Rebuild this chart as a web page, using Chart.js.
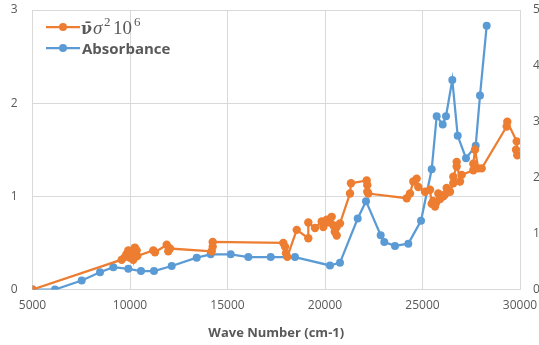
<!DOCTYPE html>
<html>
<head>
<meta charset="utf-8">
<script src="https://cdn.jsdelivr.net/npm/chart.js@4/dist/chart.umd.min.js"></script>
<style>
  html, body { margin: 0; padding: 0; background: #fff; }
  #wrap { width: 539px; height: 345px; position: relative; }
</style>
</head>
<body>
<div id="wrap"><canvas id="c" width="539" height="345"></canvas></div>
<script>
// Series 1: ν̄σ²10⁶ (left axis)
const nuWave = [5000, 9574, 9743, 9820, 9913, 10000, 10087, 10169, 10250, 10343, 10374, 11195, 11282,
  11882, 11964, 12051, 14190, 14241, 14241, 17862, 17949, 18000, 18067, 18549, 19144, 19144, 19487,
  19831, 19913, 20087, 20200, 20343, 20425, 20500, 20600, 20600, 20769, 21282, 21333, 22138, 22169,
  22169, 22220, 24190, 24359, 24528, 24700, 24784, 25128, 25385, 25472, 25550, 25641, 25700, 25810,
  25900, 26067, 26150, 26240, 26410, 26580, 26580, 26753, 26753, 26923, 27010, 27605, 27605, 27692,
  27862, 28036, 29318, 29349, 29831, 29862, 29795];
const nuValues = [0, 0.32, 0.35, 0.38, 0.42, 0.34, 0.41, 0.32, 0.45, 0.42, 0.36, 0.42, 0.40,
  0.48, 0.41, 0.44, 0.41, 0.46, 0.51, 0.50, 0.46, 0.39, 0.35, 0.64, 0.55, 0.72, 0.66,
  0.73, 0.67, 0.75, 0.72, 0.78, 0.69, 0.62, 0.58, 0.67, 0.71, 1.03, 1.14, 1.17, 1.12,
  1.05, 1.03, 0.98, 1.03, 1.16, 1.19, 1.10, 1.05, 1.07, 0.92, 0.95, 0.89, 0.93, 1.03,
  0.97, 1.00, 1.02, 1.09, 1.05, 1.14, 1.21, 1.32, 1.37, 1.16, 1.23, 1.28, 1.35, 1.50,
  1.30, 1.30, 1.75, 1.80, 1.59, 1.44, 1.50];

// Series 2: Absorbance (right axis)
const absWave = [5000, 6154, 7523, 8462, 9144, 9913, 10564, 11231, 12138, 13421, 14138, 15164, 16067,
  17215, 18462, 20256, 20769, 21677, 22103, 22856, 23041, 23590, 24272, 24923, 25472, 25728, 26036,
  26205, 26528, 26805, 27231, 27728, 27949, 28292];
const absValues = [0, 0, 0.16, 0.31, 0.40, 0.37, 0.33, 0.33, 0.42, 0.57, 0.63, 0.63, 0.58,
  0.58, 0.58, 0.43, 0.48, 1.27, 1.58, 0.97, 0.85, 0.78, 0.82, 1.23, 2.15, 3.10, 2.95,
  3.10, 3.75, 2.75, 2.35, 2.57, 3.47, 4.72];

const xTicks = [5000, 10000, 15000, 20000, 25000, 30000];
const leftTicks = [0, 1, 2, 3];
const rightTicks = [0, 1, 2, 3, 4, 5];
const xTitle = 'Wave Number (cm-1)';
const seriesNames = ['ν̄σ²10⁶', 'Absorbance'];

const ORANGE = '#ED7D31';
const BLUE = '#5B9BD5';
const GRID = '#d9d9d9';
const TXT = '#595959';

const pts = (xs, ys) => xs.map((x, i) => ({ x: x, y: ys[i] }));

const legendPlugin = {
  id: 'customLegend',
  afterDatasetsDraw(chart) {
    const ctx = chart.ctx;
    ctx.save();
    const drawEntry = (color, y) => {
      ctx.strokeStyle = color; ctx.lineWidth = 2.25;
      ctx.beginPath(); ctx.moveTo(46, y); ctx.lineTo(80, y); ctx.stroke();
      ctx.fillStyle = color;
      ctx.beginPath(); ctx.arc(63, y, 4, 0, Math.PI * 2); ctx.fill();
    };
    drawEntry(ORANGE, 27);
    drawEntry(BLUE, 48);
    ctx.fillStyle = TXT;
    ctx.textBaseline = 'alphabetic';
    ctx.textAlign = 'left';
    const base = 34;
    // first label: ν̄ σ ² 10 ⁶ (pieces set in math style)
    ctx.font = 'bold 16px "DejaVu Serif"';
    ctx.fillText('ν\u0304', 81, base);
    ctx.font = 'italic 19px "Liberation Serif"';
    ctx.fillText('σ', 93, base);
    ctx.font = '13px "Liberation Serif"';
    ctx.fillText('2', 104, base - 8);
    ctx.font = '19px "Liberation Serif"';
    ctx.fillText('10', 113, base);
    ctx.font = '13px "Liberation Serif"';
    ctx.fillText('6', 134, base - 8);
    ctx.font = 'bold 15px "Open Sans"';
    const w = ctx.measureText(seriesNames[1]).width;
    const size = Math.min(15, 15 * 101 / w);
    ctx.font = 'bold ' + size.toFixed(2) + 'px "Open Sans"';
    ctx.fillText(seriesNames[1], 82, 54);
    ctx.restore();
  }
};

const noPad = (s) => { s.paddingLeft = 0; s.paddingRight = 0; s.paddingTop = 0; s.paddingBottom = 0; };

new Chart(document.getElementById('c'), {
  type: 'line',
  data: {
    datasets: [
      {
        label: seriesNames[0], data: pts(nuWave, nuValues), yAxisID: 'y',
        borderColor: ORANGE, backgroundColor: ORANGE, borderWidth: 2.25,
        pointRadius: 4.2, pointHoverRadius: 4.2, pointBorderWidth: 0, tension: 0
      },
      {
        label: seriesNames[1], data: pts(absWave, absValues), yAxisID: 'y1',
        borderColor: BLUE, backgroundColor: BLUE, borderWidth: 2.25,
        pointRadius: 4, pointHoverRadius: 4, pointBorderWidth: 0, tension: 0
      }
    ]
  },
  options: {
    responsive: false, animation: false,
    layout: { padding: { top: 10, left: 0, right: 0, bottom: 0 } },
    plugins: { legend: { display: false }, tooltip: { enabled: false } },
    scales: {
      x: {
        type: 'linear', min: 5000, max: 30000,
        afterBuildTicks: (s) => { s.ticks = xTicks.map(v => ({ value: v })); },
        grid: { color: GRID, lineWidth: 1, drawTicks: false },
        border: { color: GRID },
        ticks: { color: TXT, font: { family: 'Open Sans', size: 12 }, padding: 9, maxRotation: 0,
                 callback: (v) => String(v) },
        title: { display: true, text: xTitle, color: TXT, font: { family: 'Open Sans', size: 13, weight: 'bold' }, padding: { top: 6 } },
        afterFit: (s) => { s.height = 55.5; noPad(s); }
      },
      y: {
        position: 'left', min: 0, max: 3,
        afterBuildTicks: (s) => { s.ticks = leftTicks.map(v => ({ value: v })); },
        grid: { color: GRID, lineWidth: 1, drawTicks: false },
        border: { color: GRID },
        ticks: { color: TXT, font: { family: 'Open Sans', size: 12 }, padding: 15 },
        afterFit: (s) => { s.width = 32.5; noPad(s); }
      },
      y1: {
        position: 'right', min: 0, max: 5,
        afterBuildTicks: (s) => { s.ticks = rightTicks.map(v => ({ value: v })); },
        grid: { display: false, drawTicks: false },
        border: { display: false },
        ticks: { color: TXT, font: { family: 'Open Sans', size: 12 }, padding: 13 },
        afterFit: (s) => { s.width = 19; noPad(s); }
      }
    }
  },
  plugins: [legendPlugin]
});
</script>
</body>
</html>
